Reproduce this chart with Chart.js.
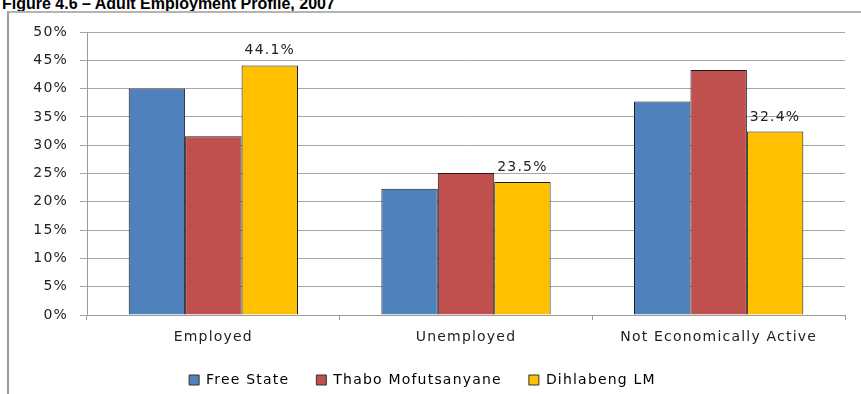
<!DOCTYPE html>
<html>
<head>
<meta charset="utf-8">
<title>Adult Employment Profile, 2007</title>
<script src="https://cdn.jsdelivr.net/npm/chart.js@4.4.1/dist/chart.umd.min.js"></script>
<style>
  html, body { margin: 0; padding: 0; background: #fff; }
  #wrap { position: relative; width: 861px; height: 394px; overflow: hidden; }
  #title {
    position: absolute; left: 2px; top: -5px;
    font: bold 16px "Liberation Sans", Arial, sans-serif; color: #000;
    white-space: nowrap;
  }
  #frame {
    position: absolute; left: 7px; top: 11px; width: 900px; height: 420px;
    border-left: 2px solid #9a9a9a; border-top: 2px solid #b4b4b4;
  }
  #chart { position: absolute; left: 0; top: 0; }
</style>
</head>
<body>
<div id="wrap">
  <div id="title">Figure 4.6 – Adult Employment Profile, 2007</div>
  <div id="frame"></div>
  <canvas id="chart" width="861" height="400"></canvas>
</div>
<script>
const categories = ["Employed", "Unemployed", "Not Economically Active"];
const freeState = [40.0, 22.3, 37.7];
const thaboMofutsanyane = [31.6, 25.1, 43.3];
const dihlabengLM = [44.1, 23.5, 32.4];
const yTicks = [0, 5, 10, 15, 20, 25, 30, 35, 40, 45, 50];

const font = { family: "'DejaVu Sans', Verdana, sans-serif", size: 14 };
const spacing = "1.2px";

// wide lettering for every label the chart draws (set before layout so widths are measured with it)
const wideText = {
    id: "wideText",
    beforeUpdate(chart) { chart.ctx.letterSpacing = spacing; },
    beforeDraw(chart) { chart.ctx.letterSpacing = spacing; }
};

// value labels above the Dihlabeng bars only
const valueLabels = {
    id: "valueLabels",
    afterDatasetsDraw(chart) {
        const ctx = chart.ctx;
        const meta = chart.getDatasetMeta(2);
        ctx.save();
        ctx.letterSpacing = spacing;
        ctx.font = font.size + "px " + font.family;
        ctx.fillStyle = "#222";
        ctx.textAlign = "center";
        ctx.textBaseline = "alphabetic";
        meta.data.forEach((bar, i) => {
            ctx.fillText(dihlabengLM[i].toFixed(1) + "%", bar.x, bar.y - 11);
        });
        ctx.restore();
    }
};

new Chart(document.getElementById("chart"), {
    type: "bar",
    data: {
        labels: categories,
        datasets: [
            { label: "Free State", data: freeState, backgroundColor: "#4F81BD" },
            { label: "Thabo Mofutsanyane", data: thaboMofutsanyane, backgroundColor: "#C0504D" },
            { label: "Dihlabeng LM", data: dihlabengLM, backgroundColor: "#FFC000" }
        ].map(d => Object.assign(d, {
            borderColor: "#1a1a1a",
            borderWidth: 1,
            barPercentage: 1,
            categoryPercentage: 0.67
        }))
    },
    options: {
        responsive: false,
        animation: false,
        layout: { padding: { left: 0, right: 16, top: 32, bottom: 3 } },
        plugins: {
            title: { display: false },
            tooltip: { enabled: false },
            legend: {
                position: "bottom",
                labels: {
                    font: font,
                    color: "#222",
                    boxWidth: 10,
                    boxHeight: 10,
                    padding: 27,
                    generateLabels(chart) {
                        return chart.data.datasets.map((d, i) => ({
                            text: d.label,
                            fillStyle: d.backgroundColor,
                            strokeStyle: "#333",
                            lineWidth: 1,
                            datasetIndex: i
                        }));
                    }
                }
            }
        },
        scales: {
            x: {
                grid: {
                    offset: true,
                    drawOnChartArea: false,
                    drawTicks: true,
                    tickLength: 5,
                    color: "#9a9a9a"
                },
                border: { color: "#9a9a9a" },
                ticks: { font: font, color: "#222", padding: 9 },
                afterFit(scale) { scale.height = 31; }
            },
            y: {
                min: 0,
                max: 50,
                afterBuildTicks(scale) { scale.ticks = yTicks.map(v => ({ value: v })); },
                grid: { color: "#a6a6a6", tickLength: 7 },
                border: { color: "#9a9a9a" },
                ticks: {
                    font: font,
                    color: "#222",
                    padding: 12,
                    callback: v => v + "%"
                },
                afterFit(scale) { scale.width = 87; }
            }
        }
    },
    plugins: [wideText, valueLabels]
});
</script>
</body>
</html>
